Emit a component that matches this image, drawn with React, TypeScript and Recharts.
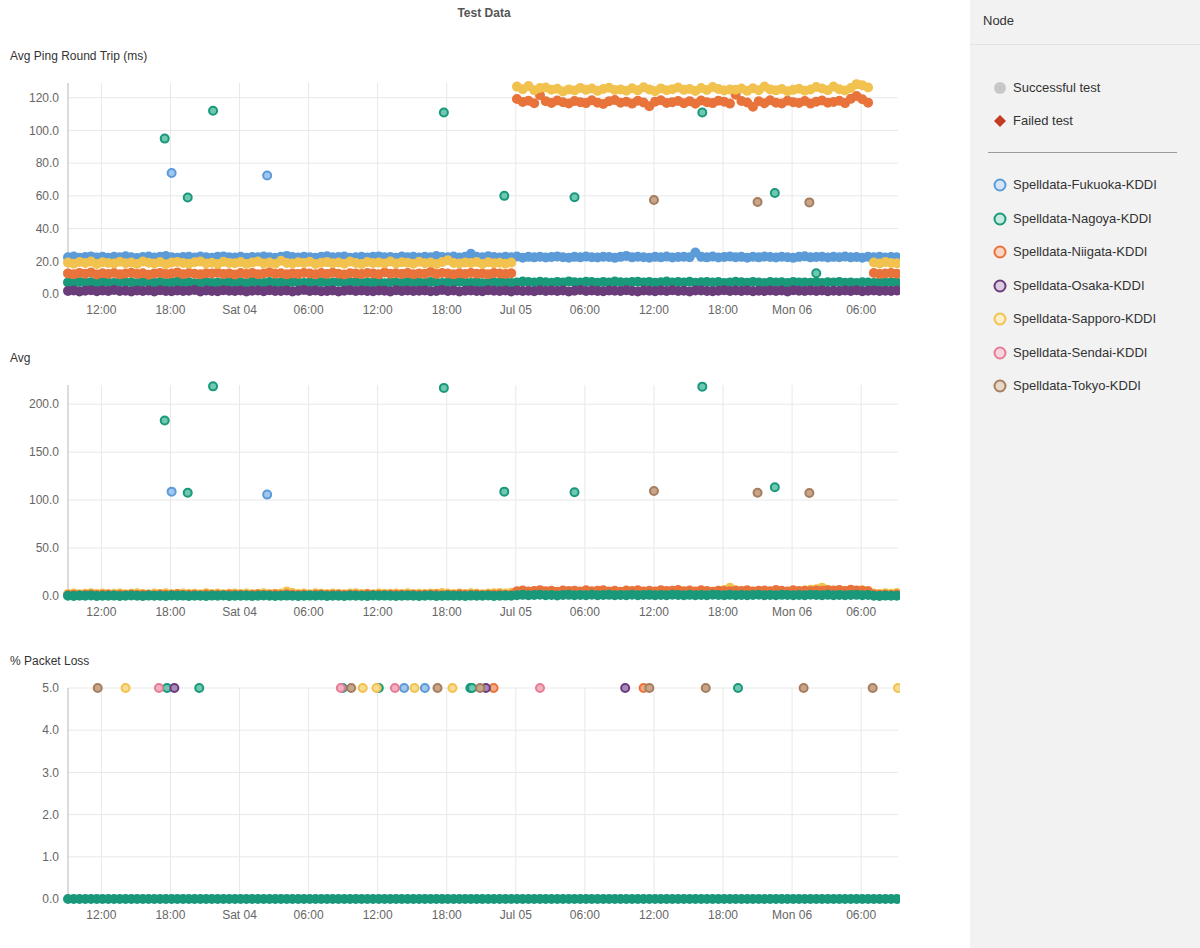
import { CartesianGrid, Scatter, ScatterChart, XAxis, YAxis } from "recharts";

// time axis: hours since Fri Jul 03 00:00, one test every 30 min
const SAMPLE_START = 9.1;
const SAMPLE_STEP = 0.5;
const X_DOMAIN = [9.1, 81.2];
const X_TICKS = [12, 18, 24, 30, 36, 42, 48, 54, 60, 66, 72, 78];
const X_TICK_LABELS = ["12:00", "18:00", "Sat 04", "06:00", "12:00", "18:00", "Jul 05", "06:00", "12:00", "18:00", "Mon 06", "06:00"];

const PING_TICKS = [0, 20, 40, 60, 80, 100, 120];
const AVG_TICKS = [0, 50, 100, 150, 200];
const LOSS_TICKS = [0, 1, 2, 3, 4, 5];

const NODES = [
  { name: "Spelldata-Fukuoka-KDDI", stroke: "#5b9bd8", fill: "#a3c6ee", pale: "#d6e4f5" },
  { name: "Spelldata-Nagoya-KDDI", stroke: "#19987a", fill: "#6fc9b2", pale: "#c6e9e0" },
  { name: "Spelldata-Niigata-KDDI", stroke: "#e8733b", fill: "#f2a882", pale: "#f8d5c3" },
  { name: "Spelldata-Osaka-KDDI", stroke: "#6a3d7a", fill: "#a789ba", pale: "#dccbe3" },
  { name: "Spelldata-Sapporo-KDDI", stroke: "#f2c24f", fill: "#f8da92", pale: "#fbeec8" },
  { name: "Spelldata-Sendai-KDDI", stroke: "#e77c97", fill: "#f2b0c0", pale: "#f7d5dd" },
  { name: "Spelldata-Tokyo-KDDI", stroke: "#a57e5f", fill: "#c9a589", pale: "#e9d7c8" },
];

// ---- Avg Ping Round Trip (ms) ----
const PING_FUKUOKA = [
  22.4, 22.9, 22.1, 22.6, 23.0, 22.3, 22.7, 22.2, 22.8, 22.5,
  23.1, 22.4, 22.0, 22.6, 22.9, 22.3, 22.7, 23.2, 22.5, 22.1,
  22.6, 22.8, 22.3, 22.9, 22.4, 22.2, 22.7, 23.0, 22.5, 22.3,
  22.8, 22.1, 22.6, 22.4, 22.9, 22.5, 22.2, 22.7, 23.3, 22.6,
  22.3, 22.8, 22.5, 22.1, 22.7, 23.1, 22.4, 22.6, 22.9, 22.2,
  22.5, 22.8, 22.3, 22.7, 23.0, 22.4, 22.6, 22.2, 22.9, 22.5,
  22.7, 22.3, 22.8, 22.5, 23.2, 22.6, 22.4, 22.9, 22.3, 22.7,
  24.6, 22.8, 22.4, 23.1, 22.6, 22.3, 22.8, 22.5, 22.9, 22.2,
  22.7, 22.4, 22.8, 22.3, 22.6, 23.0, 22.5, 22.2, 22.7, 22.4,
  22.9, 22.5, 22.3, 22.8, 22.6, 22.1, 22.7, 23.3, 22.4, 22.8,
  22.5, 22.2, 22.7, 22.4, 22.9, 22.3, 22.6, 22.8, 22.5, 25.4,
  22.7, 22.4, 22.9, 22.3, 22.6, 23.0, 22.5, 22.7, 22.2, 22.8,
  22.4, 22.9, 22.6, 22.3, 22.8, 22.5, 22.1, 22.7, 23.1, 22.4,
  22.6, 22.8, 22.3, 22.7, 22.5, 22.9, 22.4, 22.6, 22.2, 22.8,
  22.5, 22.7, 22.3, 22.6, 22.4,
];

const PING_SAPPORO = [
  19.2, 18.5, 19.6, 18.9, 19.8, 18.3, 19.4, 19.0, 18.6, 19.7,
  18.8, 19.3, 18.4, 19.9, 19.1, 18.7, 19.5, 18.2, 19.2, 19.6,
  18.9, 18.5, 19.4, 19.8, 18.6, 19.1, 18.3, 19.7, 19.0, 18.8,
  19.5, 18.4, 19.2, 19.9, 18.7, 19.3, 18.5, 20.3, 19.0, 18.6,
  19.4, 18.9, 19.7, 18.3, 19.1, 19.5, 18.8, 19.3, 18.5, 19.8,
  19.0, 18.4, 19.6, 18.9, 19.2, 18.6, 19.9, 18.7, 19.4, 19.1,
  18.5, 19.7, 18.8, 19.3, 18.4, 19.5, 20.6, 19.0, 18.6, 19.2,
  18.9, 19.6, 18.3, 19.4, 18.8, 19.1, 18.5, 19.3,
  126.8, 125.2, 127.1, 124.6, 125.9, 126.3, 124.9, 125.5, 123.8, 125.1,
  124.4, 126.0, 124.8, 125.6, 124.2, 125.3, 126.1, 124.7, 125.0, 124.3,
  125.8, 124.5, 126.4, 125.1, 124.0, 125.7, 124.6, 125.2, 126.2, 124.8,
  125.4, 124.1, 125.9, 124.7, 126.6, 125.3, 124.4, 125.0, 124.9, 125.6,
  124.2, 125.8, 124.6, 126.9, 125.1, 124.5, 125.3, 124.0, 124.8, 125.5,
  124.3, 125.0, 126.5, 125.7, 124.6, 126.8, 125.2, 124.4, 125.9, 128.3,
  127.6, 126.2,
  19.3, 18.7, 19.5, 19.0, 18.8,
];

const PING_NIIGATA = [
  12.6, 12.1, 12.9, 12.4, 13.1, 11.9, 12.7, 12.3, 12.8, 12.0,
  12.5, 13.0, 12.2, 12.7, 11.8, 12.6, 12.9, 12.3, 12.5, 13.2,
  12.1, 12.8, 12.4, 12.0, 12.7, 12.5, 13.0, 12.2, 12.6, 11.9,
  12.8, 12.3, 12.9, 12.1, 12.5, 13.3, 12.4, 12.7, 12.0, 12.6,
  12.2, 12.9, 12.5, 12.1, 12.8, 12.3, 13.0, 12.4, 11.9, 12.7,
  12.5, 12.2, 12.8, 12.6, 12.0, 13.1, 12.4, 12.7, 12.3, 12.9,
  12.1, 12.6, 12.4, 13.4, 12.2, 12.8, 12.5, 12.0, 12.7, 12.3,
  12.9, 12.4, 12.6, 12.1, 12.8, 12.5, 12.2, 12.7,
  119.2, 117.4, 118.1, 116.6, 121.5, 117.9, 116.8, 118.3, 117.2, 116.5,
  118.0, 117.3, 116.7, 118.4, 117.0, 116.2, 117.8, 118.6, 116.9, 117.5,
  116.4, 118.2, 117.1, 114.8, 117.6, 118.5, 116.8, 117.3, 118.0, 116.6,
  117.9, 116.3, 118.3, 117.2, 116.7, 118.1, 117.5, 116.4, 121.8, 118.0,
  117.1, 114.5, 117.8, 116.6, 118.4, 117.0, 116.5, 118.2, 117.3, 116.8,
  118.0, 116.4, 117.6, 118.3, 116.9, 117.4, 118.1, 116.7, 119.3, 121.0,
  119.1, 117.0,
  12.8, 12.3, 12.6, 12.9, 12.4,
];

const PING_NAGOYA = [
  7.1, 6.7, 7.4, 6.9, 7.2, 6.6, 7.5, 7.0, 6.8, 7.3,
  6.9, 7.2, 6.5, 7.4, 7.0, 6.8, 7.3, 6.7, 7.1, 7.5,
  6.9, 7.2, 6.6, 7.0, 7.4, 6.8, 7.1, 6.7, 7.3, 6.9,
  7.2, 6.6, 7.5, 7.0, 6.8, 7.3, 6.9, 7.1, 6.7, 7.4,
  7.0, 6.8, 7.2, 6.6, 7.3, 6.9, 7.1, 7.5, 6.8, 7.0,
  7.3, 6.7, 7.1, 6.9, 7.4, 6.6, 7.2, 7.0, 6.8, 7.3,
  6.9, 7.1, 6.7, 7.4, 7.0, 6.8, 7.2, 6.9, 7.5, 7.1,
  6.8, 7.3, 6.6, 7.0, 7.2, 6.9, 7.4, 6.7, 7.1, 7.6,
  7.3, 7.0, 7.5, 7.2, 6.9, 7.4, 7.1, 7.7, 7.2, 7.0,
  7.5, 7.3, 6.9, 7.4, 7.1, 7.6, 7.2, 7.0, 7.3, 7.5,
  7.1, 7.4, 6.9, 7.2, 7.6, 7.0, 7.3, 7.1, 7.5, 6.9,
  7.2, 7.4, 7.0, 7.3, 6.8, 7.1, 7.5, 7.2, 6.9, 7.4,
  7.1, 6.8, 7.3, 7.0, 7.2, 6.7, 7.4, 7.0, 7.1, 6.9,
  7.3, 6.8, 7.2, 7.0, 7.4, 6.9, 7.1, 6.7, 7.2, 7.0,
  6.8, 7.1, 6.9, 7.2, 7.0,
];

const PING_OSAKA = [
  1.9, 2.2, 1.6, 2.0, 2.3, 1.7, 2.1, 1.8, 2.4, 1.9,
  2.0, 1.6, 2.2, 1.8, 2.1, 1.5, 2.3, 1.9, 1.7, 2.2,
  1.8, 2.0, 2.4, 1.6, 2.1, 1.9, 1.7, 2.3, 2.0, 1.8,
  2.2, 1.5, 2.0, 2.1, 1.7, 2.3, 1.9, 1.8, 2.2, 1.6,
  2.0, 2.4, 1.8, 2.1, 1.7, 1.9, 2.2, 1.6, 2.0, 2.3,
  1.8, 2.1, 1.9, 1.7, 2.2, 2.0, 1.6, 2.3, 1.9, 2.1,
  1.8, 2.0, 2.2, 1.7, 1.9, 2.4, 1.8, 2.1, 1.6, 2.0,
  2.2, 1.9, 1.7, 2.3, 2.0, 1.8, 2.1, 1.6, 2.2, 1.9,
  2.0, 1.7, 2.3, 1.8, 2.1, 1.9, 2.2, 1.6, 2.0, 2.4,
  1.8, 2.1, 1.9, 1.7, 2.2, 2.0, 1.8, 2.3, 1.9, 1.6,
  2.1, 2.0, 1.7, 2.2, 1.9, 2.3, 1.8, 2.0, 1.6, 2.1,
  2.2, 1.9, 1.7, 2.0, 2.3, 1.8, 2.1, 1.9, 2.2, 1.7,
  2.0, 1.8, 2.2, 1.9, 2.1, 1.6, 2.3, 2.0, 1.8, 2.1,
  1.9, 2.2, 1.7, 2.0, 1.8, 2.1, 1.9, 2.3, 1.7, 2.0,
  2.2, 1.8, 2.0, 1.9, 2.1,
];

// isolated slow tests: [hour, ms]
const PING_SPIKES_FUKUOKA = [[18.1, 74], [26.4, 72.5]];
const PING_SPIKES_NAGOYA = [
  [17.5, 95], [19.5, 59], [21.7, 112], [41.75, 111], [47.0, 60],
  [53.1, 59.2], [64.2, 111], [70.5, 61.7], [74.1, 12.7],
];
const PING_SPIKES_TOKYO = [[60.0, 57.5], [69.0, 56.3], [73.5, 56]];

// ---- Avg ----
const AVG_SAPPORO = [
  2.1, 2.6, 1.8, 2.4, 2.9, 2.0, 2.5, 1.7, 2.3, 2.7,
  1.9, 2.4, 2.8, 2.1, 1.6, 2.5, 2.2, 2.9, 1.8, 2.3,
  2.6, 2.0, 2.4, 1.7, 2.8, 2.2, 2.5, 1.9, 2.3, 2.7,
  2.0, 2.6, 1.8, 2.4, 2.9, 2.1, 2.3, 2.7, 4.6, 3.1,
  2.2, 2.5, 1.9, 2.8, 2.4, 2.0, 2.6, 2.2, 1.8, 2.5,
  2.9, 2.1, 2.4, 1.7, 2.7, 2.3, 2.0, 2.6, 2.2, 2.8,
  1.9, 2.4, 2.1, 2.7, 2.3, 3.2, 2.5, 2.0, 2.6, 2.2,
  2.9, 2.4, 1.8, 2.5, 2.8, 3.0, 2.7, 3.3,
  4.2, 5.1, 3.8, 4.6, 5.4, 4.0, 4.8, 3.6, 5.0, 4.4,
  4.9, 3.9, 5.2, 4.3, 4.7, 5.5, 4.1, 4.8, 3.7, 5.0,
  4.5, 5.3, 4.0, 4.6, 3.9, 5.1, 4.4, 4.8, 5.6, 4.2,
  4.9, 4.0, 5.2, 4.5, 3.8, 5.0, 6.2, 8.6, 6.0, 4.6,
  5.3, 4.1, 4.8, 5.1, 4.3, 5.5, 4.7, 4.0, 5.2, 4.4,
  5.8, 6.4, 7.1, 8.7, 6.5, 5.0, 5.9, 4.6, 6.3, 5.2,
  6.0, 5.1,
  2.6, 2.2, 2.8, 2.4, 3.0,
];

const AVG_NIIGATA = [
  1.1, 1.4, 0.9, 1.3, 1.6, 1.0, 1.2, 1.5, 0.8, 1.3,
  1.1, 1.6, 1.0, 1.4, 1.2, 0.9, 1.5, 1.1, 1.3, 1.7,
  1.0, 1.2, 1.4, 0.9, 1.6, 1.1, 1.3, 1.0, 1.5, 1.2,
  1.4, 0.8, 1.3, 1.6, 1.1, 1.2, 1.5, 1.0, 1.8, 1.3,
  1.1, 1.4, 0.9, 1.2, 1.6, 1.0, 1.3, 1.5, 1.1, 1.2,
  1.4, 0.9, 1.7, 1.1, 1.3, 1.0, 1.5, 1.2, 1.4, 1.1,
  1.6, 1.0, 1.3, 1.2, 1.5, 0.9, 1.4, 1.1, 1.8, 1.2,
  1.3, 1.6, 1.0, 1.4, 1.2, 1.5, 1.1, 1.3,
  5.0, 5.8, 4.6, 5.3, 6.1, 4.9, 5.5, 4.4, 5.7, 5.1,
  5.6, 4.7, 5.9, 5.0, 5.4, 6.0, 4.8, 5.5, 4.5, 5.8,
  5.2, 6.0, 4.7, 5.4, 4.6, 5.9, 5.1, 5.6, 6.2, 4.9,
  5.7, 4.8, 5.9, 5.2, 4.5, 5.6, 5.3, 5.0, 5.4, 5.2,
  6.0, 4.8, 5.5, 5.8, 5.0, 6.2, 5.4, 4.7, 5.9, 5.1,
  5.5, 5.2, 5.8, 5.4, 6.1, 5.7, 6.3, 5.3, 6.4, 5.8,
  5.5, 5.0,
  1.6, 1.2, 1.4, 1.1, 1.5,
];

const AVG_NAGOYA = [
  0.3, 0.1, 0.4, 0.2, 0.5, 0.0, 0.3, 0.2, 0.4, 0.1,
  0.2, 0.5, 0.3, 0.0, 0.4, 0.2, 0.3, 0.1, 0.5, 0.2,
  0.4, 0.1, 0.3, 0.2, 0.0, 0.4, 0.3, 0.5, 0.1, 0.2,
  0.3, 0.4, 0.1, 0.2, 0.5, 0.3, 0.0, 0.2, 0.4, 0.3,
  0.1, 0.2, 0.4, 0.3, 0.5, 0.1, 0.2, 0.3, 0.0, 0.4,
  0.2, 0.3, 0.1, 0.5, 0.2, 0.4, 0.3, 0.1, 0.2, 0.4,
  0.3, 0.0, 0.2, 0.5, 0.1, 0.3, 0.4, 0.2, 0.3, 0.1,
  0.4, 0.2, 0.3, 0.5, 0.1, 0.2, 0.4, 0.3,
  0.9, 1.2, 0.7, 1.0, 1.3, 0.8, 1.1, 0.6, 1.0, 1.2,
  0.8, 1.1, 0.9, 1.3, 0.7, 1.0, 1.2, 0.8, 1.1, 0.9,
  1.4, 0.7, 1.0, 1.2, 0.8, 1.1, 0.9, 1.3, 1.0, 0.7,
  1.2, 0.9, 1.1, 0.8, 1.3, 1.0, 0.7, 1.2, 0.9, 1.1,
  0.8, 1.0, 1.3, 0.9, 1.1, 0.7, 1.2, 1.0, 0.8, 1.1,
  0.9, 1.3, 1.0, 0.8, 1.2, 0.9, 1.1, 0.7, 1.0, 1.2,
  0.8, 1.0,
  0.3, 0.1, 0.4, 0.2, 0.3,
];

const AVG_SPIKES_FUKUOKA = [[18.1, 108.8], [26.4, 105.7]];
const AVG_SPIKES_NAGOYA = [
  [17.5, 183], [19.5, 107.7], [21.7, 218.6], [41.75, 217], [47.0, 108.8],
  [53.1, 108.2], [64.2, 218.3], [70.5, 113.3],
];
const AVG_SPIKES_TOKYO = [[60.0, 109.5], [69.0, 107.7], [73.5, 107.4]];

// ---- % Packet Loss ----
const LOSS_NAGOYA = [
  0, 0, 0, 0, 0, 0, 0, 0, 0, 0, 0, 0, 0, 0, 0, 0, 0, 0, 0, 0,
  0, 0, 0, 0, 0, 0, 0, 0, 0, 0, 0, 0, 0, 0, 0, 0, 0, 0, 0, 0,
  0, 0, 0, 0, 0, 0, 0, 0, 0, 0, 0, 0, 0, 0, 0, 0, 0, 0, 0, 0,
  0, 0, 0, 0, 0, 0, 0, 0, 0, 0, 0, 0, 0, 0, 0, 0, 0, 0, 0, 0,
  0, 0, 0, 0, 0, 0, 0, 0, 0, 0, 0, 0, 0, 0, 0, 0, 0, 0, 0, 0,
  0, 0, 0, 0, 0, 0, 0, 0, 0, 0, 0, 0, 0, 0, 0, 0, 0, 0, 0, 0,
  0, 0, 0, 0, 0, 0, 0, 0, 0, 0, 0, 0, 0, 0, 0, 0, 0, 0, 0, 0,
  0, 0, 0, 0, 0,
];

// hours at which a test lost 5% of its packets
const LOSS_HOURS_FUKUOKA = [38.3, 40.1];
const LOSS_HOURS_NAGOYA = [17.7, 20.5, 32.96, 36.1, 44.05, 44.2, 67.3];
const LOSS_HOURS_NIIGATA = [46.07, 59.1];
const LOSS_HOURS_OSAKA = [18.34, 45.4, 57.5];
const LOSS_HOURS_SAPPORO = [14.1, 34.7, 35.9, 39.2, 42.5, 81.2];
const LOSS_HOURS_SENDAI = [17.0, 32.8, 37.5, 50.1];
const LOSS_HOURS_TOKYO = [11.68, 33.7, 41.2, 44.9, 59.6, 64.5, 73.0, 79.0];
const LOSS_LEVEL = 5;

const FONT = '"Liberation Sans", Arial, Helvetica, sans-serif';

type Pt = { t: number; v: number };

const series = (values: number[]): Pt[] => values.map((v, i) => ({ t: SAMPLE_START + i * SAMPLE_STEP, v }));
const pairs = (list: number[][]): Pt[] => list.map(([t, v]) => ({ t, v }));
const events = (hours: number[], level: number): Pt[] => hours.map((t) => ({ t, v: level }));

const dot = (stroke: string, fill: string) => (props: any) =>
  <circle cx={props.cx} cy={props.cy} r={4} fill={fill} stroke={stroke} strokeWidth={2} />;

type Layer = { key: string; data: Pt[]; node: number; solid?: boolean };

function Panel({ title, top, yMax, yTicks, layers }: { title: string; top: number; yMax: number; yTicks: number[]; layers: Layer[] }) {
  return (
    <>
      <div style={{ position: "absolute", left: 10, top: top - 22, fontSize: 12, lineHeight: "16px", color: "#333" }}>{title}</div>
      <div style={{ position: "absolute", left: 0, top }}>
        <ScatterChart width={900} height={254} margin={{ top: 13, right: 2, bottom: 0, left: 8 }} style={{ overflow: "visible" }}>
          <CartesianGrid stroke="#e8e8e8" syncWithTicks />
          <XAxis
            type="number"
            dataKey="t"
            domain={X_DOMAIN}
            ticks={X_TICKS}
            tickFormatter={(t) => X_TICK_LABELS[X_TICKS.indexOf(t)] ?? ""}
            axisLine={false}
            tickLine={false}
            tickSize={0}
            tickMargin={11}
            height={30}
            tick={{ fontSize: 12, fill: "#666", fontFamily: FONT }}
          />
          <YAxis
            type="number"
            dataKey="v"
            domain={[0, yMax]}
            ticks={yTicks}
            tickFormatter={(v) => Number(v).toFixed(1)}
            axisLine={{ stroke: "#b8b8b8" }}
            tickLine={false}
            tickSize={0}
            tickMargin={9}
            width={60}
            tick={{ fontSize: 12, fill: "#666", fontFamily: FONT }}
          />
          {layers.map((l) => {
            const n = NODES[l.node];
            return (
              <Scatter
                key={l.key}
                data={l.data}
                isAnimationActive={false}
                shape={dot(n.stroke, l.solid ? n.stroke : n.fill)}
              />
            );
          })}
        </ScatterChart>
      </div>
    </>
  );
}

function Legend() {
  const row = (y: number, icon: any, label: string) => (
    <div key={label} style={{ position: "absolute", left: 0, top: y - 10, height: 20, width: 230 }}>
      <svg width={24} height={20} style={{ position: "absolute", left: 18, top: 0 }}>{icon}</svg>
      <div style={{ position: "absolute", left: 43, top: 2, fontSize: 13, lineHeight: "16px", color: "#333" }}>{label}</div>
    </div>
  );
  return (
    <div style={{ position: "absolute", left: 970, top: 0, width: 230, height: 948, background: "#f2f2f2", fontFamily: FONT }}>
      <div style={{ position: "absolute", left: 13, top: 13, fontSize: 13, lineHeight: "16px", color: "#333" }}>Node</div>
      <div style={{ position: "absolute", left: 0, top: 44, width: 230, height: 1, background: "#e2e2e2" }} />
      {row(88, <circle cx={12} cy={10} r={6} fill="#c8c8c8" />, "Successful test")}
      {row(121, <polygon points="12,4 18,10 12,16 6,10" fill="#c43a22" />, "Failed test")}
      <div style={{ position: "absolute", left: 18, top: 152, width: 189, height: 1, background: "#9a9a9a" }} />
      {NODES.map((n, i) =>
        row(185 + i * 33.5, <circle cx={12} cy={10} r={5.5} fill={n.pale} stroke={n.stroke} strokeWidth={2} />, n.name),
      )}
    </div>
  );
}

export default function App() {
  const pingLayers: Layer[] = [
    { key: "fuk", data: series(PING_FUKUOKA), node: 0, solid: true },
    { key: "nag", data: series(PING_NAGOYA), node: 1, solid: true },
    { key: "nii", data: series(PING_NIIGATA), node: 2, solid: true },
    { key: "osa", data: series(PING_OSAKA), node: 3, solid: true },
    { key: "sap", data: series(PING_SAPPORO), node: 4, solid: true },
    { key: "fuk-s", data: pairs(PING_SPIKES_FUKUOKA), node: 0 },
    { key: "nag-s", data: pairs(PING_SPIKES_NAGOYA), node: 1 },
    { key: "tok-s", data: pairs(PING_SPIKES_TOKYO), node: 6 },
  ];
  const avgLayers: Layer[] = [
    { key: "sap", data: series(AVG_SAPPORO), node: 4, solid: true },
    { key: "nii", data: series(AVG_NIIGATA), node: 2, solid: true },
    { key: "nag", data: series(AVG_NAGOYA), node: 1, solid: true },
    { key: "fuk-s", data: pairs(AVG_SPIKES_FUKUOKA), node: 0 },
    { key: "nag-s", data: pairs(AVG_SPIKES_NAGOYA), node: 1 },
    { key: "tok-s", data: pairs(AVG_SPIKES_TOKYO), node: 6 },
  ];
  const lossLayers: Layer[] = [
    { key: "nag", data: series(LOSS_NAGOYA), node: 1, solid: true },
    { key: "fuk-l", data: events(LOSS_HOURS_FUKUOKA, LOSS_LEVEL), node: 0 },
    { key: "nag-l", data: events(LOSS_HOURS_NAGOYA, LOSS_LEVEL), node: 1 },
    { key: "nii-l", data: events(LOSS_HOURS_NIIGATA, LOSS_LEVEL), node: 2 },
    { key: "osa-l", data: events(LOSS_HOURS_OSAKA, LOSS_LEVEL), node: 3 },
    { key: "sap-l", data: events(LOSS_HOURS_SAPPORO, LOSS_LEVEL), node: 4 },
    { key: "sen-l", data: events(LOSS_HOURS_SENDAI, LOSS_LEVEL), node: 5 },
    { key: "tok-l", data: events(LOSS_HOURS_TOKYO, LOSS_LEVEL), node: 6 },
  ];

  return (
    <div style={{ position: "absolute", left: 0, top: 0, width: 1200, height: 948, background: "#fff", fontFamily: FONT, overflow: "hidden" }}>
      <div style={{ position: "absolute", left: 0, top: 5, width: 968, textAlign: "center", fontSize: 12, fontWeight: "bold", lineHeight: "16px", color: "#555" }}>
        Test Data
      </div>
      <Panel title="Avg Ping Round Trip (ms)" top={70} yMax={129} yTicks={PING_TICKS} layers={pingLayers} />
      <Panel title="Avg" top={372} yMax={220} yTicks={AVG_TICKS} layers={avgLayers} />
      <Panel title="% Packet Loss" top={675} yMax={5} yTicks={LOSS_TICKS} layers={lossLayers} />
      <Legend />
    </div>
  );
}
